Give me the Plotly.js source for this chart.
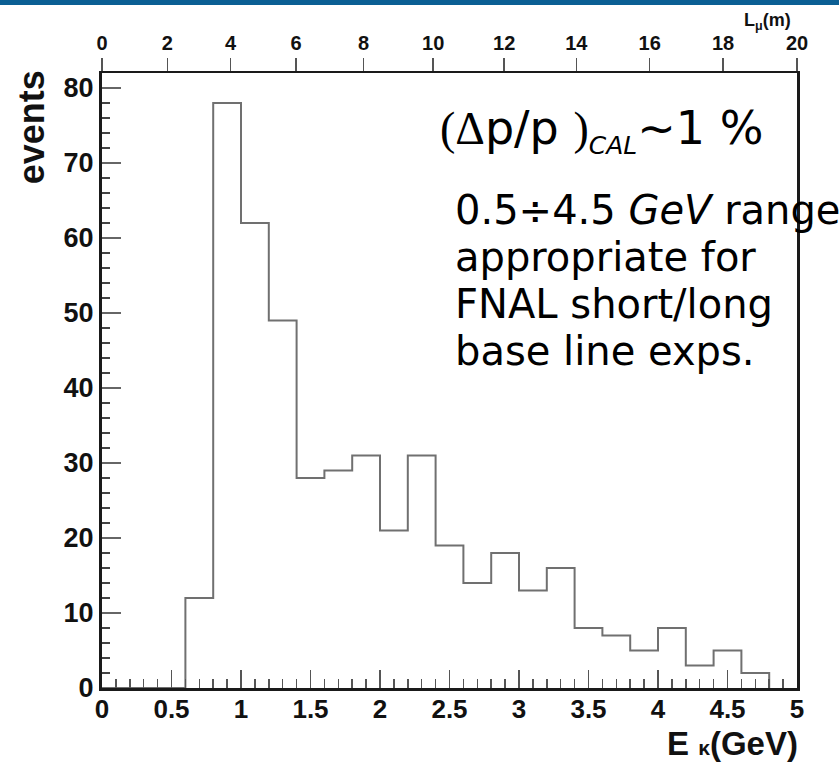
<!DOCTYPE html>
<html>
<head>
<meta charset="utf-8">
<script src="https://cdn.plot.ly/plotly-3.0.1.min.js"></script>
<style>
html,body{margin:0;padding:0;background:#ffffff;}
#chart{width:839px;height:762px;}
</style>
</head>
<body>
<div id="chart"></div>
<script>
// Histogram bin edges (GeV) and event counts
const binEdges = [0.6, 0.8, 1.0, 1.2, 1.4, 1.6, 1.8, 2.0, 2.2, 2.4, 2.6, 2.8, 3.0, 3.2, 3.4, 3.6, 3.8, 4.0, 4.2, 4.4, 4.6, 4.8];
const counts   = [12, 78, 62, 49, 28, 29, 31, 21, 31, 19, 14, 18, 13, 16, 8, 7, 5, 8, 3, 5, 2];

// Top axis: muon range L_mu (m) labels and the kinetic energy (GeV) they sit at
const topTickLabels = ['0', '2', '4', '6', '8', '10', '12', '14', '16', '18', '20'];
const topTickE      = [0, 0.47, 0.925, 1.397, 1.882, 2.383, 2.893, 3.412, 3.94, 4.468, 5.0];

// Note lines
const noteLines = ['0.5÷4.5 <i>GeV</i> range', 'appropriate for', 'FNAL short/long', 'base line exps.'];

// Step outline built from the bins
const stepX = [0].concat(binEdges);
const stepY = [0].concat(counts).concat([0]);

const sansBold = 'Liberation Sans, Arial, sans-serif';
const annFont = 'DejaVu Sans, Noto Sans, sans-serif';

const traces = [
  {
    type: 'scatter', mode: 'lines',
    x: stepX, y: stepY,
    line: {shape: 'hv', color: '#707070', width: 2},
    hoverinfo: 'skip', cliponaxis: true
  },
  {
    type: 'scatter', mode: 'markers',
    x: [], y: [], xaxis: 'x2', yaxis: 'y',
    hoverinfo: 'skip', showlegend: false
  }
];

const noteCenters = [0.7772, 0.7008, 0.6244, 0.548];
const annotations = [
  {xref: 'paper', yref: 'paper', x: -0.102, y: 0.912, xanchor: 'center', yanchor: 'middle',
   text: 'events', textangle: -90, showarrow: false,
   font: {family: sansBold, size: 36, weight: 'bold', color: '#111'}},
  {xref: 'paper', yref: 'paper', x: 1.005, y: -0.09, xanchor: 'right', yanchor: 'middle',
   text: 'E <span style="font-size:21px">κ</span>(GeV)', showarrow: false,
   font: {family: sansBold, size: 33, weight: 'bold', color: '#111'}},
  {xref: 'paper', yref: 'paper', x: 0.958, y: 1.083, xanchor: 'center', yanchor: 'middle',
   text: 'L<sub>μ</sub>(m)', showarrow: false,
   font: {family: sansBold, size: 18, weight: 'bold', color: '#111'}},
  {xref: 'paper', yref: 'paper', x: 0.4835, y: 0.907, xanchor: 'left', yanchor: 'middle',
   text: '<span style="font-family:Liberation Serif, serif">(Δ</span>p/p <span style="font-family:Liberation Serif, serif">)</span><sub><i><span style="font-size:25px">CAL</span></i></sub>~1 %',
   showarrow: false, align: 'left',
   font: {family: annFont, size: 46, color: '#000'}}
];
noteLines.forEach(function (t, i) {
  annotations.push({xref: 'paper', yref: 'paper', x: 0.505, y: noteCenters[i], xanchor: 'left', yanchor: 'middle',
    text: t, showarrow: false, align: 'left', font: {family: annFont, size: 40, color: '#000'}});
});

const layout = {
  width: 839, height: 762,
  margin: {l: 102, r: 42, t: 73, b: 74, pad: 0},
  paper_bgcolor: '#ffffff', plot_bgcolor: '#ffffff',
  showlegend: false,
  xaxis: {
    range: [0, 5], dtick: 0.5, tick0: 0,
    showgrid: false, zeroline: false,
    showline: true, linecolor: '#1a1a1a', linewidth: 3,
    ticks: 'inside', ticklen: 18, tickwidth: 1.5, tickcolor: '#555',
    ticklabelstandoff: -4,
    tickfont: {family: sansBold, size: 26, weight: 'bold', color: '#111'},
    minor: {dtick: 0.1, tick0: 0, ticks: 'inside', ticklen: 9, tickwidth: 1.5, tickcolor: '#555', showgrid: false}
  },
  xaxis2: {
    overlaying: 'x', side: 'top', anchor: 'y',
    range: [0, 5],
    tickmode: 'array', tickvals: topTickE, ticktext: topTickLabels,
    showgrid: false, zeroline: false,
    showline: true, linecolor: '#1a1a1a', linewidth: 2,
    ticks: 'outside', ticklen: 13, tickwidth: 1.5, tickcolor: '#555',
    tickfont: {family: sansBold, size: 20, weight: 'bold', color: '#111'}
  },
  yaxis: {
    range: [0, 82], dtick: 10, tick0: 0,
    showgrid: false, zeroline: false,
    showline: true, mirror: true, linecolor: '#1a1a1a', linewidth: 3,
    ticks: 'inside', ticklen: 19, tickwidth: 1.5, tickcolor: '#666',
    tickfont: {family: sansBold, size: 27, weight: 'bold', color: '#111'},
    minor: {dtick: 2, tick0: 0, ticks: 'inside', ticklen: 8, tickwidth: 1.5, tickcolor: '#444', showgrid: false}
  },
  shapes: [
    {type: 'rect', xref: 'paper', yref: 'paper', x0: -0.15, x1: 1.07, y0: 1.1106, y1: 1.125,
     fillcolor: '#0b5f94', line: {width: 0}, layer: 'above'}
  ],
  annotations: annotations
};

Plotly.newPlot('chart', traces, layout, {displayModeBar: false, staticPlot: true});
</script>
</body>
</html>
